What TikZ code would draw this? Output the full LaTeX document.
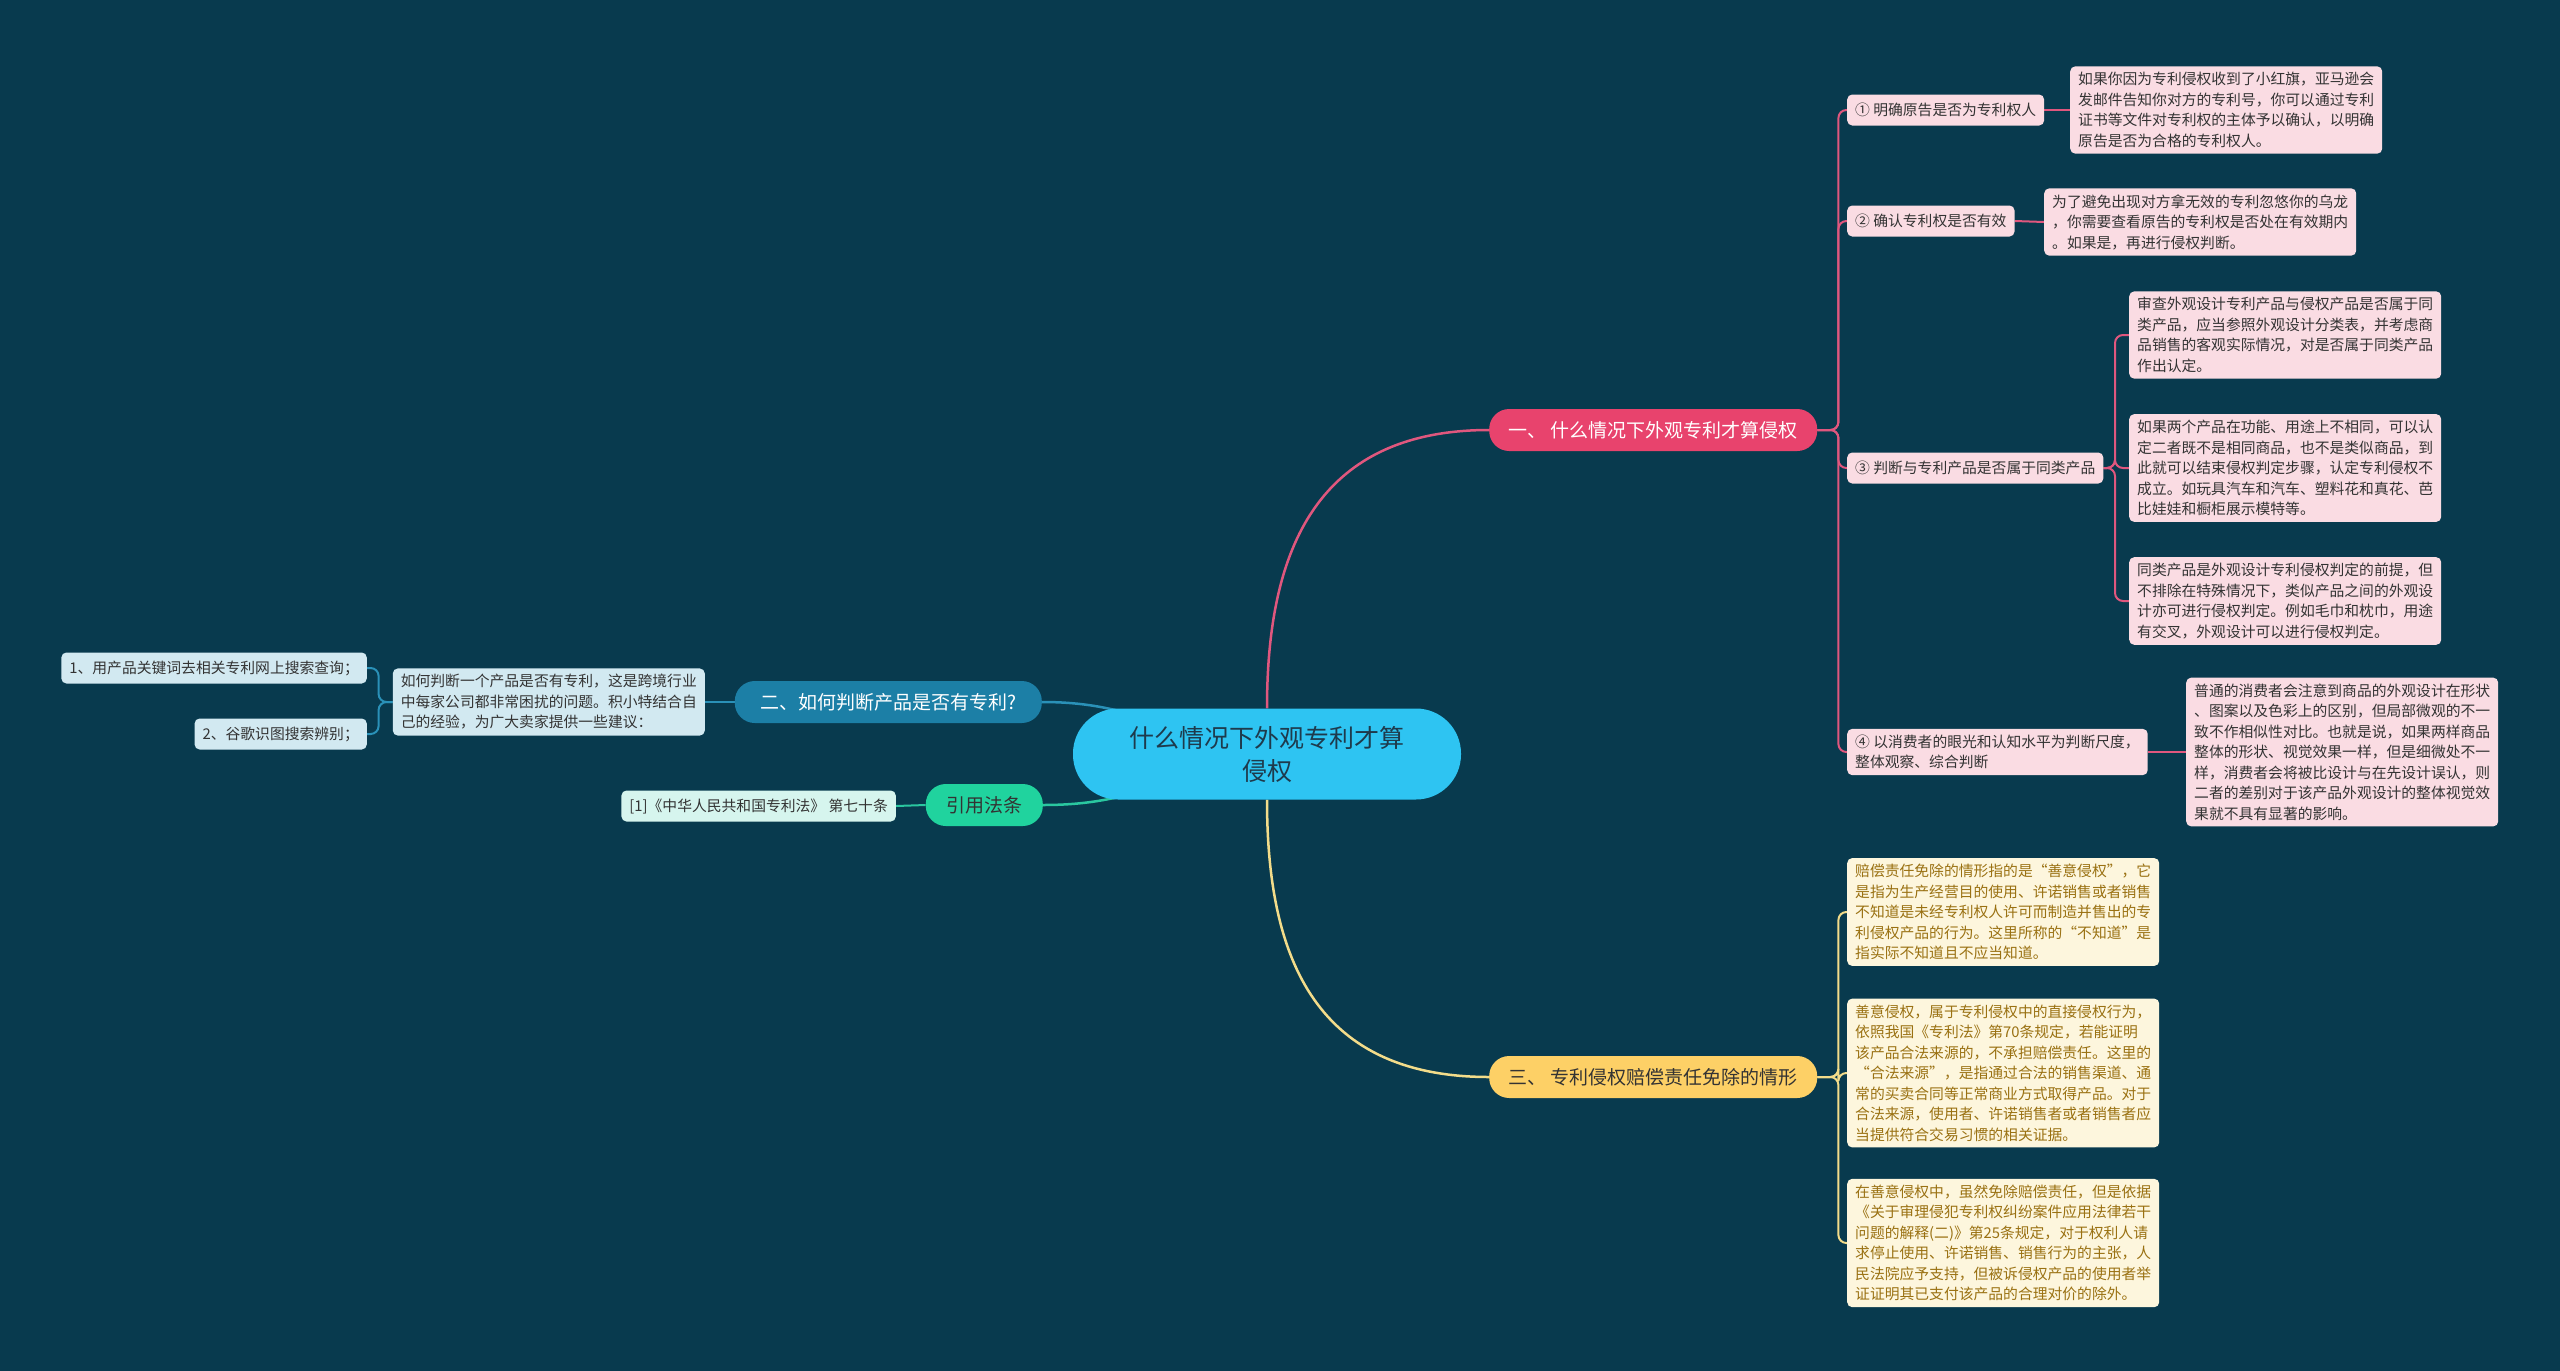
\documentclass[tikz,border=0pt]{standalone}
\usepackage{fontspec}
\setmainfont{Noto Sans CJK SC}
\definecolor{bgc}{HTML}{083A4E}
\definecolor{cblue}{HTML}{2EC4F2}
\definecolor{ctext}{HTML}{1E3A4C}
\definecolor{pinkm}{HTML}{E8436D}
\definecolor{pinkl}{HTML}{E0577E}
\definecolor{pinklt}{HTML}{FADCE3}
\definecolor{bluem}{HTML}{1C7FA6}
\definecolor{bluel}{HTML}{2A91B8}
\definecolor{bluelt}{HTML}{D2E9F1}
\definecolor{greenm}{HTML}{20D39E}
\definecolor{greenl}{HTML}{2AC7A0}
\definecolor{greenlt}{HTML}{D6F5EE}
\definecolor{yellm}{HTML}{FDD066}
\definecolor{yelll}{HTML}{F3DC8A}
\definecolor{yelllt}{HTML}{FDF6DD}
\definecolor{yelltxt}{HTML}{9A7112}
\definecolor{txtdark}{HTML}{333333}
\pgfdeclarelayer{bgl}
\pgfdeclarelayer{edges}
\pgfsetlayers{bgl,edges,main}
\tikzset{
  small/.style={font=\fontsize{14.8}{20.5}\selectfont, align=left, inner xsep=8pt, inner ysep=6pt, rounded corners=5pt},
  pinkbox/.style={small, fill=pinklt, text=txtdark},
  bluebox/.style={small, fill=bluelt, text=txtdark},
  greenbox/.style={small, fill=greenlt, text=txtdark},
  yellbox/.style={small, fill=yelllt, text=yelltxt},
  keybox/.style={pinkbox, minimum height=31pt},
  mainb/.style={font=\fontsize{19}{24}\selectfont, rounded corners=20pt, inner sep=0pt, minimum height=42pt},
  cnode/.style={fill=cblue, text=ctext, font=\fontsize{25}{33}\selectfont, align=center, minimum width=388pt, minimum height=91pt, rounded corners=45pt, inner sep=0pt},
  pinkline/.style={draw=pinkl, line width=2.5pt},
  pinkthin/.style={draw=pinkl, line width=2pt, rounded corners=8pt},
  yellline/.style={draw=yelll, line width=2.5pt},
  yellthin/.style={draw=yelll, line width=2pt, rounded corners=8pt},
  blueline/.style={draw=bluel, line width=2.5pt},
  bluethin/.style={draw=bluel, line width=2pt, rounded corners=8pt},
  greenline/.style={draw=greenl, line width=2.5pt}
}
\begin{document}
\begin{tikzpicture}[x=1pt,y=-1pt]
\begin{pgfonlayer}{bgl}
\fill[bgc] (0,0) rectangle (2560,1371);
\end{pgfonlayer}
\useasboundingbox (0,0) rectangle (2560,1371);

% center
\node[cnode] (c) at (1267,754) {什么情况下外观专利才算\\侵权};

% main branches
\node[mainb, fill=pinkm, text=white, minimum width=328pt, anchor=west] (b1) at (1489,430) {一、 什么情况下外观专利才算侵权};
\node[mainb, fill=yellm, text=txtdark, minimum width=328pt, anchor=west] (b3) at (1489,1077) {三、 专利侵权赔偿责任免除的情形};
\node[mainb, fill=bluem, text=white, minimum width=307pt, anchor=east] (b2) at (1042,702) {二、如何判断产品是否有专利?};
\node[mainb, fill=greenm, text=txtdark, minimum width=117pt, anchor=east] (g) at (1043,805) {引用法条};

% branch 1 children
\node[keybox, anchor=west] (k1) at (1847,110) {① 明确原告是否为专利权人};
\node[pinkbox, anchor=west] (t1) at (2070,110) {如果你因为专利侵权收到了小红旗，亚马逊会\\发邮件告知你对方的专利号，你可以通过专利\\证书等文件对专利权的主体予以确认，以明确\\原告是否为合格的专利权人。};
\node[keybox, anchor=west] (k2) at (1847,221) {② 确认专利权是否有效};
\node[pinkbox, anchor=west] (t2) at (2044,222) {为了避免出现对方拿无效的专利忽悠你的乌龙\\，你需要查看原告的专利权是否处在有效期内\\。如果是，再进行侵权判断。};
\node[keybox, anchor=west] (k3) at (1847,468) {③ 判断与专利产品是否属于同类产品};
\node[pinkbox, anchor=west] (t3a) at (2129,335) {审查外观设计专利产品与侵权产品是否属于同\\类产品，应当参照外观设计分类表，并考虑商\\品销售的客观实际情况，对是否属于同类产品\\作出认定。};
\node[pinkbox, anchor=west] (t3b) at (2129,468) {如果两个产品在功能、用途上不相同，可以认\\定二者既不是相同商品，也不是类似商品，到\\此就可以结束侵权判定步骤，认定专利侵权不\\成立。如玩具汽车和汽车、塑料花和真花、芭\\比娃娃和橱柜展示模特等。};
\node[pinkbox, anchor=west] (t3c) at (2129,601) {同类产品是外观设计专利侵权判定的前提，但\\不排除在特殊情况下，类似产品之间的外观设\\计亦可进行侵权判定。例如毛巾和枕巾，用途\\有交叉，外观设计可以进行侵权判定。};
\node[pinkbox, anchor=west] (k4) at (1847,752) {④ 以消费者的眼光和认知水平为判断尺度，\\整体观察、综合判断};
\node[pinkbox, anchor=west] (t4) at (2186,752) {普通的消费者会注意到商品的外观设计在形状\\、图案以及色彩上的区别，但局部微观的不一\\致不作相似性对比。也就是说，如果两样商品\\整体的形状、视觉效果一样，但是细微处不一\\样，消费者会将被比设计与在先设计误认，则\\二者的差别对于该产品外观设计的整体视觉效\\果就不具有显著的影响。};

% branch 3 children
\node[yellbox, anchor=west] (y1) at (1847,912) {赔偿责任免除的情形指的是“善意侵权”，它\\是指为生产经营目的使用、许诺销售或者销售\\不知道是未经专利权人许可而制造并售出的专\\利侵权产品的行为。这里所称的“不知道”是\\指实际不知道且不应当知道。};
\node[yellbox, anchor=west] (y2) at (1847,1073) {善意侵权，属于专利侵权中的直接侵权行为，\\依照我国《专利法》第70条规定，若能证明\\该产品合法来源的，不承担赔偿责任。这里的\\“合法来源”，是指通过合法的销售渠道、通\\常的买卖合同等正常商业方式取得产品。对于\\合法来源，使用者、许诺销售者或者销售者应\\当提供符合交易习惯的相关证据。};
\node[yellbox, anchor=west] (y3) at (1847,1243) {在善意侵权中，虽然免除赔偿责任，但是依据\\《关于审理侵犯专利权纠纷案件应用法律若干\\问题的解释(二)》第25条规定，对于权利人请\\求停止使用、许诺销售、销售行为的主张，人\\民法院应予支持，但被诉侵权产品的使用者举\\证证明其已支付该产品的合理对价的除外。};

% branch 2 children
\node[bluebox, anchor=east] (L) at (705,702) {如何判断一个产品是否有专利，这是跨境行业\\中每家公司都非常困扰的问题。积小特结合自\\己的经验，为广大卖家提供一些建议：};
\node[bluebox, anchor=east, minimum height=31pt] (L1) at (367,668) {1、用产品关键词去相关专利网上搜索查询；};
\node[bluebox, anchor=east, minimum height=31pt] (L2) at (367,734) {2、谷歌识图搜索辨别；};

% green child
\node[greenbox, anchor=east, minimum height=31pt] (g1) at (896,806) {[1]《中华人民共和国专利法》 第七十条};

\begin{pgfonlayer}{edges}
\draw[pinkline] (c.north) .. controls (1267,560) and (1310,430) .. (b1.west);
\draw[yellline] (c.south) .. controls (1267,950) and (1310,1077) .. (b3.west);
\draw[blueline] (b2.east) .. controls (1130,702) and (1160,730) .. (c.center);
\draw[greenline] (g.east) .. controls (1130,805) and (1160,780) .. (c.center);

\draw[pinkthin] (b1.east) -- ++(21,0) |- (k1.west);
\draw[pinkthin] (b1.east) -- ++(21,0) |- (k2.west);
\draw[pinkthin] (b1.east) -- ++(21,0) |- (k3.west);
\draw[pinkthin] (b1.east) -- ++(21,0) |- (k4.west);
\draw[pinkthin] (k1.east) -- (t1.west);
\draw[pinkthin] (k2.east) -- (t2.west);
\draw[pinkthin] (k4.east) -- (t4.west);
\draw[pinkthin] (k3.east) -- (2115,468) |- (t3a.west);
\draw[pinkthin] (k3.east) -- (2115,468) |- (t3b.west);
\draw[pinkthin] (k3.east) -- (2115,468) |- (t3c.west);

\draw[yellthin] (b3.east) -- ++(21,0) |- (y1.west);
\draw[yellthin] (b3.east) -- ++(21,0) |- (y2.west);
\draw[yellthin] (b3.east) -- ++(21,0) |- (y3.west);

\draw[bluethin] (b2.west) -- (L.east);
\draw[bluethin] (L.west) -- ++(-14,0) |- (L1.east);
\draw[bluethin] (L.west) -- ++(-14,0) |- (L2.east);

\draw[greenline, line width=2pt] (g.west) -- (g1.east);
\end{pgfonlayer}
\end{tikzpicture}
\end{document}
